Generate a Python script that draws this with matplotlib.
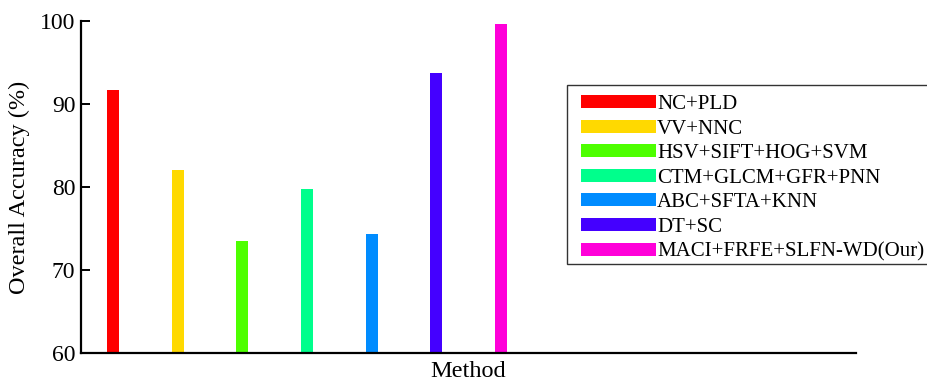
import matplotlib
matplotlib.use("Agg")
import matplotlib.pyplot as plt
from matplotlib.patches import Patch, Rectangle

methods = ["NC+PLD", "VV+NNC", "HSV+SIFT+HOG+SVM", "CTM+GLCM+GFR+PNN",
           "ABC+SFTA+KNN", "DT+SC", "MACI+FRFE+SLFN-WD(Our)"]
accuracy = [91.7, 82.05, 73.5, 79.75, 74.3, 93.7, 99.65]
colors = ["#FF0000", "#FFD900", "#4DFF00", "#00FF8C", "#008CFF", "#4400FF", "#FF00D9"]
positions = [1, 2, 3, 4, 5, 6, 7]
yticks = [60, 70, 80, 90, 100]

plt.rcParams["font.family"] = ["Liberation Serif", "DejaVu Serif"]

W, H = 928, 383
fig = plt.figure(figsize=(W / 100, H / 100), dpi=100)
ax = fig.add_axes([81 / W, 1 - 353 / H, (856 - 81) / W, (353 - 21) / H])

ax.bar(positions, [a - 60 for a in accuracy], bottom=60, width=0.186,
       color=colors, edgecolor="none")

ax.set_xlim(0.5, 12.5)
ax.set_ylim(60, 100)
ax.set_yticks(yticks)
ax.set_xticks([])
ax.tick_params(axis="y", direction="in", length=6.5, width=1.4,
               labelsize=17, pad=4)
for side in ("top", "right"):
    ax.spines[side].set_visible(False)
for side in ("left", "bottom"):
    ax.spines[side].set_linewidth(1.6)

ax.set_ylabel("Overall Accuracy (%)", fontsize=17.5, labelpad=7)
ax.set_xlabel("Method", fontsize=17.5, labelpad=6)

# legend box (open on the right, running past the figure edge)
fig.add_artist(Rectangle((567 / W, 1 - 264 / H), (940 - 567) / W, (264 - 85) / H,
                         transform=fig.transFigure, facecolor="white",
                         edgecolor="#333333", linewidth=1.0, zorder=2))

handles = [Patch(facecolor=c, edgecolor="none") for c in colors]
leg = fig.legend(handles, methods, loc="upper left",
                 bbox_to_anchor=(581 / W, 1 - 95 / H),
                 bbox_transform=fig.transFigure,
                 fontsize=15, handlelength=3.6, handleheight=0.58,
                 handletextpad=0.06, labelspacing=0.265, borderpad=0,
                 borderaxespad=0, frameon=False)
leg.set_zorder(3)

fig.savefig("out.png", dpi=100)
